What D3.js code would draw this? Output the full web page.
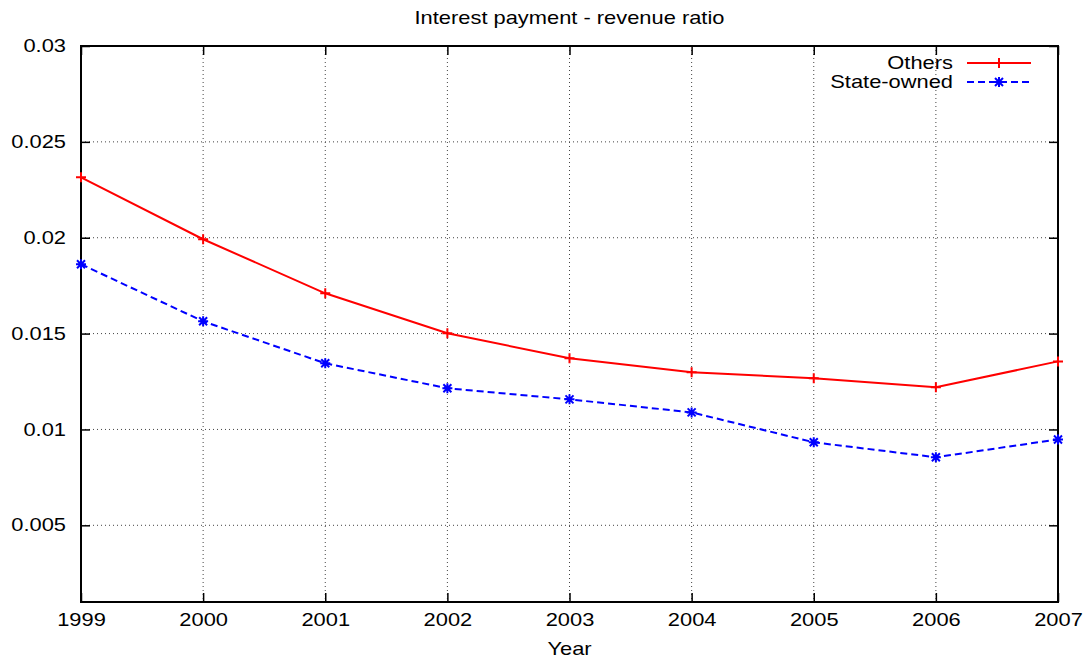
<!DOCTYPE html>
<html>
<head>
<meta charset="utf-8">
<script src="https://cdn.jsdelivr.net/npm/d3@7"></script>
<style>
  body { margin: 0; background: #fff; }
  text { font-family: "Liberation Sans", Arial, sans-serif; fill: #000; }
</style>
</head>
<body>
<div id="chart"></div>
<script>
// values
var years = [1999, 2000, 2001, 2002, 2003, 2004, 2005, 2006, 2007];
var others = [0.02315, 0.01992, 0.0171, 0.01502, 0.01371, 0.01298, 0.01267, 0.0122, 0.01355];
var stateOwned = [0.01862, 0.01564, 0.01345, 0.01215, 0.01157, 0.01089, 0.00933, 0.00855, 0.00948];
var yTicks = [0.005, 0.01, 0.015, 0.02, 0.025, 0.03];
var yTickLabels = ["0.005", "0.01", "0.015", "0.02", "0.025", "0.03"];

var W = 1091, H = 663;
var margin = { top: 46, right: 33, bottom: 61, left: 81 };
var width = W - margin.left - margin.right;
var height = H - margin.top - margin.bottom;

// the original text is drawn a bit wider than normal
var SX = 1.25;
var FONT = "17.5px";
function stretch(sel) {
    sel.each(function() {
        var t = d3.select(this);
        var x = +t.attr("x") || 0;
        t.attr("x", x / SX).attr("transform", "scale(" + SX + ",1)");
    });
}

var svg = d3.select("#chart").append("svg")
    .attr("width", W)
    .attr("height", H);

var g = svg.append("g")
    .attr("transform", "translate(" + margin.left + "," + margin.top + ")");

var x = d3.scaleLinear().domain([1999, 2007]).range([0, width]);
var y = d3.scaleLinear().domain([0.001, 0.03]).range([height, 0]);

// grid (dotted)
g.append("g").selectAll("line.gx")
    .data(years.slice(1, -1))
    .enter().append("line")
    .attr("x1", function(d) { return x(d); })
    .attr("x2", function(d) { return x(d); })
    .attr("y1", 0).attr("y2", height)
    .style("stroke", "#444").style("stroke-width", 1)
    .style("stroke-dasharray", "1,3");

g.append("g").selectAll("line.gy")
    .data(yTicks.slice(0, -1))
    .enter().append("line")
    .attr("x1", 0).attr("x2", width)
    .attr("y1", function(d) { return y(d); })
    .attr("y2", function(d) { return y(d); })
    .style("stroke", "#444").style("stroke-width", 1)
    .style("stroke-dasharray", "1,3");

// axes with inward ticks (mirrored on both sides, like gnuplot)
var tickLen = 9;
var xAxis = d3.axisBottom(x).tickValues(years).tickFormat(d3.format("d"))
    .tickSizeInner(-tickLen).tickSizeOuter(0).tickPadding(18);
var xAxisTop = d3.axisTop(x).tickValues(years).tickFormat("")
    .tickSizeInner(-tickLen).tickSizeOuter(0);
var yAxis = d3.axisLeft(y).tickValues(yTicks)
    .tickFormat(function(d, i) { return yTickLabels[i]; })
    .tickSizeInner(-tickLen).tickSizeOuter(0).tickPadding(15);
var yAxisRight = d3.axisRight(y).tickValues(yTicks).tickFormat("")
    .tickSizeInner(-tickLen).tickSizeOuter(0);

var gx = g.append("g").attr("transform", "translate(0," + height + ")").call(xAxis);
g.append("g").call(xAxisTop);
var gy = g.append("g").call(yAxis);
g.append("g").attr("transform", "translate(" + width + ",0)").call(yAxisRight);

g.selectAll(".domain").remove();
g.selectAll(".tick line").style("stroke", "#000").style("stroke-width", 1.5);
gx.selectAll("text").style("font-size", FONT).attr("dy", "0.35em").call(stretch);
gy.selectAll("text").style("font-size", FONT).call(stretch);

// frame
g.append("rect")
    .attr("x", 0).attr("y", 0)
    .attr("width", width).attr("height", height)
    .style("fill", "none").style("stroke", "#000").style("stroke-width", 2);

// lines
var line = d3.line()
    .x(function(d, i) { return x(years[i]); })
    .y(function(d) { return y(d); });

g.append("path")
    .datum(others)
    .attr("d", line)
    .style("fill", "none").style("stroke", "#ff0000").style("stroke-width", 2);

g.append("path")
    .datum(stateOwned)
    .attr("d", line)
    .style("fill", "none").style("stroke", "#0000ff").style("stroke-width", 2)
    .style("stroke-dasharray", "7,4");

// point markers
function plus(sel, s) {
    sel.append("path").attr("d", "M" + (-s) + ",0H" + s + "M0," + (-s) + "V" + s);
}
function star(sel, s) {
    var k = s * 0.8;
    sel.append("path").attr("d", "M" + (-s) + ",0H" + s + "M0," + (-s) + "V" + s +
        "M" + (-k) + "," + (-k) + "L" + k + "," + k + "M" + (-k) + "," + k + "L" + k + "," + (-k));
}

g.append("g").selectAll("g")
    .data(others)
    .enter().append("g")
    .attr("transform", function(d, i) { return "translate(" + x(years[i]) + "," + y(d) + ")"; })
    .style("stroke", "#ff0000").style("stroke-width", 2)
    .each(function() { plus(d3.select(this), 5); });

g.append("g").selectAll("g")
    .data(stateOwned)
    .enter().append("g")
    .attr("transform", function(d, i) { return "translate(" + x(years[i]) + "," + y(d) + ")"; })
    .style("stroke", "#0000ff").style("stroke-width", 2)
    .each(function() { star(d3.select(this), 5); });

// legend
var legend = svg.append("g");
var legendItems = [
    { name: "Others", color: "#ff0000", dash: null, mark: plus, y: 63 },
    { name: "State-owned", color: "#0000ff", dash: "7,4", mark: star, y: 82 }
];
legendItems.forEach(function(it) {
    legend.append("text")
        .attr("x", 953).attr("y", it.y)
        .attr("dy", "0.35em")
        .attr("text-anchor", "end")
        .style("font-size", FONT)
        .text(it.name)
        .call(stretch);
    legend.append("line")
        .attr("x1", 967).attr("x2", 1031)
        .attr("y1", it.y).attr("y2", it.y)
        .style("stroke", it.color).style("stroke-width", 2)
        .style("stroke-dasharray", it.dash);
    var m = legend.append("g")
        .attr("transform", "translate(999," + it.y + ")")
        .style("stroke", it.color).style("stroke-width", 2);
    it.mark(m, 5);
});

// title and x label
svg.append("text")
    .attr("x", margin.left + width / 2)
    .attr("y", 24)
    .attr("text-anchor", "middle")
    .style("font-size", FONT)
    .text("Interest payment - revenue ratio")
    .call(stretch);

svg.append("text")
    .attr("x", margin.left + width / 2)
    .attr("y", 655)
    .attr("text-anchor", "middle")
    .style("font-size", FONT)
    .text("Year")
    .call(stretch);
</script>
</body>
</html>
